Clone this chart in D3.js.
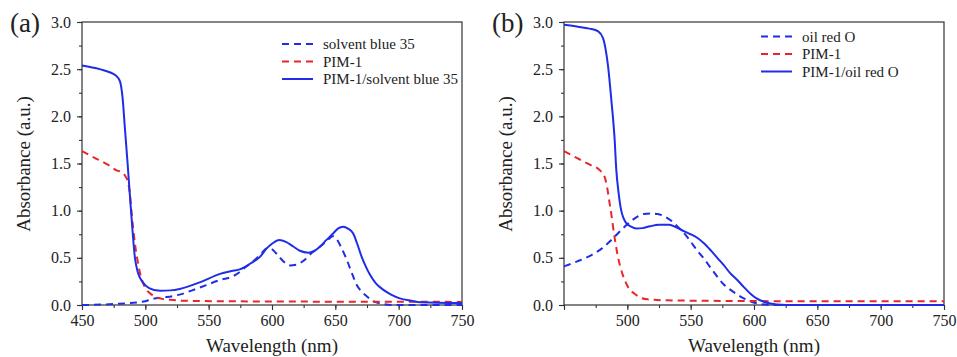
<!DOCTYPE html>
<html>
<head>
<meta charset="utf-8">
<script src="https://cdn.jsdelivr.net/npm/d3@7"></script>
<style>
  body { margin: 0; background: #fff; }
  #chart text { font-family: "Liberation Serif", "Times New Roman", serif !important; }
</style>
</head>
<body>
<svg id="chart" width="957" height="357" font-family="Liberation Serif"></svg>
<script>
// Panel (a) curves: [wavelength nm, absorbance]
const blue35Dye = [[450,0],[475,0.01],[500,0.04],[504,0.06],[515,0.08],[527,0.11],[540,0.17],[559,0.265],[570,0.31],[580,0.41],[590,0.52],[596,0.6],[600,0.59],[605,0.52],[610,0.45],[614,0.42],[620,0.43],[625,0.47],[632,0.56],[638,0.62],[645,0.7],[648,0.73],[651,0.7],[655,0.6],[659,0.48],[663,0.34],[667,0.21],[671,0.14],[675,0.09],[680,0.04],[688,0.01],[695,0],[750,0]];
const pimA = [[450,1.63],[460,1.56],[470,1.49],[477,1.43],[482,1.4],[484.5,1.36],[486.6,1.29],[488,1.15],[489,1.0],[490.5,0.8],[491.8,0.65],[493.5,0.5],[495.8,0.34],[498,0.24],[501,0.16],[505,0.11],[511.6,0.07],[520,0.055],[530,0.045],[560,0.04],[650,0.035],[750,0.033]];
const blue35Film = [[450,2.54],[464,2.5],[477,2.43],[480,2.37],[482,2.2],[484,1.85],[486,1.5],[488.7,1.0],[491.8,0.5],[494,0.35],[498,0.24],[503,0.18],[511.6,0.15],[520,0.155],[527,0.17],[543,0.24],[559,0.33],[568,0.36],[575,0.38],[583,0.44],[590.5,0.51],[595.8,0.6],[600,0.65],[605.8,0.69],[611,0.67],[616.8,0.62],[622,0.575],[628.7,0.555],[633,0.57],[638,0.62],[643,0.69],[648.4,0.76],[652,0.81],[656.3,0.83],[660,0.81],[664,0.76],[667,0.66],[670.8,0.51],[674,0.41],[677.4,0.32],[682,0.23],[688,0.16],[694,0.11],[701,0.07],[710,0.045],[717,0.03],[750,0.02]];

// Panel (b) curves
const oilRedDye = [[450,0.41],[460,0.46],[471.7,0.53],[480,0.6],[487.4,0.69],[497.9,0.83],[503,0.89],[508.3,0.94],[513,0.965],[518.7,0.97],[524,0.965],[529.3,0.94],[535,0.89],[539.7,0.83],[545,0.76],[550.1,0.67],[555,0.58],[560.6,0.49],[566,0.39],[571,0.3],[576,0.22],[581.5,0.16],[587,0.11],[592,0.07],[598,0.035],[605,0.01],[615,0],[750,0]];
const pimB = [[450,1.63],[460,1.56],[470,1.49],[478.2,1.43],[482,1.36],[484,1.25],[486,1.08],[487.5,0.95],[488.7,0.83],[490.5,0.67],[492.6,0.51],[495,0.38],[497.9,0.265],[501,0.18],[505.7,0.12],[510,0.08],[516,0.06],[530,0.05],[560,0.045],[650,0.04],[750,0.04]];
const oilRedFilm = [[450,2.97],[461,2.95],[470,2.93],[477,2.9],[480.8,2.83],[483,2.7],[484.8,2.53],[487.4,2.17],[490,1.75],[491.3,1.43],[493,1.2],[495.2,1.0],[497,0.92],[499,0.87],[503,0.83],[507,0.81],[512,0.815],[518,0.835],[525,0.85],[533,0.85],[539,0.82],[545,0.78],[550,0.75],[555.4,0.71],[560,0.66],[565.8,0.58],[571,0.5],[576.3,0.42],[581,0.34],[586.8,0.265],[592,0.19],[597.2,0.12],[602,0.07],[607.7,0.035],[613,0.015],[618,0.005],[625,0],[750,0]];

const xTicks = [450, 500, 550, 600, 650, 700, 750];
const yTicks = [0, 0.5, 1.0, 1.5, 2.0, 2.5, 3.0];
const legendA = ["solvent blue 35", "PIM-1", "PIM-1/solvent blue 35"];
const legendB = ["oil red O", "PIM-1", "PIM-1/oil red O"];

const BLUE = "#1f2ee6";
const RED = "#e8262b";
const FONT = "Liberation Serif";

const svg = d3.select("#chart");

// serif text helper, attribute and inline style both set
function serif(sel, size) {
  return sel.attr("font-family", FONT)
    .style("font-family", "'Liberation Serif', 'Times New Roman', serif")
    .attr("font-size", size).attr("fill", "#222");
}

function styleAxis(a, withText) {
  a.attr("font-family", FONT);
  a.select(".domain").remove();
  a.selectAll("line").attr("stroke", "#333").attr("stroke-width", 1.1);
  if (withText) serif(a.selectAll("text"), 16);
}

function drawPanel(opt) {
  const x = d3.scaleLinear().domain([450, 750]).range([opt.left, opt.right]);
  const y = d3.scaleLinear().domain([0, 3]).range([305, 22]);
  const g = svg.append("g");

  // frame
  g.append("rect")
    .attr("x", opt.left).attr("y", 22)
    .attr("width", opt.right - opt.left).attr("height", 283)
    .attr("fill", "none").attr("stroke", "#333").attr("stroke-width", 1.2);

  // x axis: minor + major ticks pointing outward
  g.append("g")
    .attr("transform", "translate(0,305)")
    .call(d3.axisBottom(x).tickValues(d3.range(450, 751, 25)).tickSize(3).tickFormat(""))
    .call(a => styleAxis(a, false));
  g.append("g")
    .attr("transform", "translate(0,305)")
    .call(d3.axisBottom(x).tickValues(xTicks).tickSize(5).tickPadding(5)
      .tickFormat(d => (opt.hideFirstX && d === 450) ? "" : d))
    .call(a => styleAxis(a, true));

  // y axis
  g.append("g")
    .attr("transform", `translate(${opt.left},0)`)
    .call(d3.axisLeft(y).tickValues(d3.range(0, 3.01, 0.25)).tickSize(3).tickFormat(""))
    .call(a => styleAxis(a, false));
  g.append("g")
    .attr("transform", `translate(${opt.left},0)`)
    .call(d3.axisLeft(y).tickValues(yTicks).tickSize(5).tickPadding(6).tickFormat(d3.format(".1f")))
    .call(a => styleAxis(a, true));

  // titles
  serif(g.append("text"), 19)
    .attr("x", (opt.left + opt.right) / 2).attr("y", 352)
    .attr("text-anchor", "middle")
    .text("Wavelength (nm)");
  serif(g.append("text"), 19)
    .attr("transform", `translate(${opt.left - 52},164) rotate(-90)`)
    .attr("text-anchor", "middle")
    .text("Absorbance (a.u.)");
  serif(g.append("text"), 27)
    .attr("x", opt.left - 72).attr("y", 32)
    .text(opt.tag);

  // curves
  const line = d3.line()
    .x(d => x(d[0])).y(d => y(d[1]))
    .curve(d3.curveMonotoneX);
  const series = [
    { data: opt.dye, color: BLUE, dash: "7,5" },
    { data: opt.pim, color: RED, dash: "7,5" },
    { data: opt.film, color: BLUE, dash: null }
  ];
  g.append("g").selectAll("path")
    .data(series)
    .join("path")
    .attr("d", d => line(d.data))
    .attr("fill", "none")
    .attr("stroke", d => d.color)
    .attr("stroke-width", 2)
    .attr("stroke-dasharray", d => d.dash);

  // legend
  const leg = g.append("g").selectAll("g")
    .data(series.map((s, i) => ({ ...s, label: opt.legend[i] })))
    .join("g")
    .attr("transform", (d, i) => `translate(${opt.legX},${opt.legY + i * 17.5})`);
  leg.append("line")
    .attr("x1", 0).attr("x2", 31)
    .attr("stroke", d => d.color).attr("stroke-width", 2)
    .attr("stroke-dasharray", d => d.dash ? "7,5" : null);
  serif(leg.append("text"), 15)
    .attr("x", 41).attr("dy", "0.35em")
    .text(d => d.label);
}

drawPanel({ left: 82, right: 462, tag: "(a)", dye: blue35Dye, pim: pimA, film: blue35Film,
  legend: legendA, legX: 282, legY: 44, hideFirstX: false });
drawPanel({ left: 564, right: 944, tag: "(b)", dye: oilRedDye, pim: pimB, film: oilRedFilm,
  legend: legendB, legX: 761, legY: 36.5, hideFirstX: true });
</script>
</body>
</html>
